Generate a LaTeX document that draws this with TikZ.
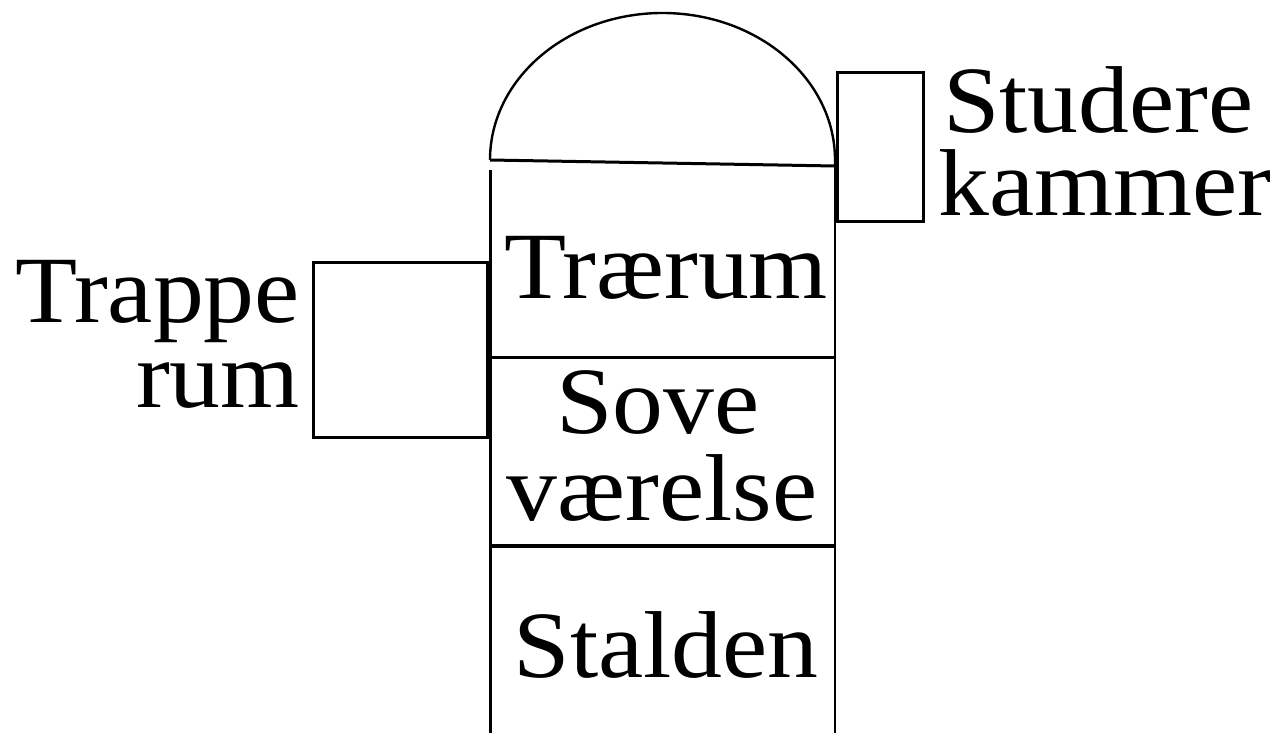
\documentclass[tikz,border=0pt]{standalone}
\usepackage{fontspec}
\setmainfont[FakeStretch=1.07]{Liberation Serif}
\begin{document}
\begin{tikzpicture}[x=1pt,y=-1pt,
  wall/.style={draw=black,line width=3pt},
  lbl/.style={inner sep=0pt,text height=64pt,text depth=0pt,font=\fontsize{95}{100}\selectfont}]
\useasboundingbox (0,0) rectangle (1278,733);

% dome on top of the tower
\draw[wall,line width=2.4pt] (490,160) arc[start angle=180,end angle=360,x radius=172.5,y radius=147] -- (835,166);
\draw[wall] (490,160) -- (835,166);

% tower walls
\draw[wall] (490,170) -- (490,733);
\draw[wall,line width=2.5pt] (835,166) -- (835,733);
\draw[wall] (490,357) -- (835,357);
\draw[wall,line width=3.8pt] (490,546) -- (835,546);

% side rooms
\draw[wall] (313,262) rectangle (487,437);
\draw[wall] (837,73) rectangle (923,221);

% labels
\node[lbl,anchor=base east] (trappe1) at (300,322) {Trappe};
\node[lbl,anchor=base east] (trappe2) at (300,407) {rum};
\node[lbl,anchor=base] (traerum) at (666,298) {Trærum};
\node[lbl,anchor=base] (sove1) at (658,433) {Sove};
\node[lbl,anchor=base] (sove2) at (662,520) {værelse};
\node[lbl,anchor=base] (stalden) at (666,677) {Stalden};
\node[lbl,anchor=base west] (stud1) at (943,133) {Studere};
\node[lbl,anchor=base west] (stud2) at (938,215) {kammer};
\end{tikzpicture}
\end{document}
